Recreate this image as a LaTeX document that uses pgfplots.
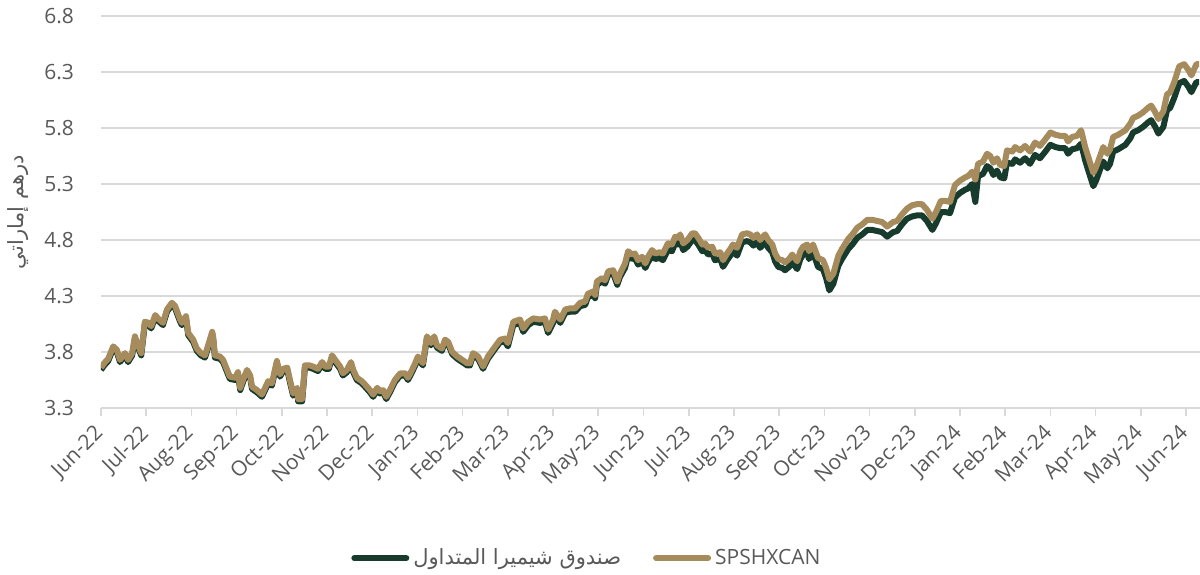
\documentclass[border=0pt]{standalone}
\usepackage{fontspec}
\setmainfont{Open Sans}
\newfontfamily\arabicfont[Script=Arabic]{DejaVu Sans}
\TeXXeTstate=1
\usepackage{pgfplots}
\usepackage{pgfplotstable}
\pgfplotsset{compat=1.18}
\definecolor{fundgreen}{HTML}{173B2C}
\definecolor{indexgold}{HTML}{A68B5C}
\definecolor{gridgray}{HTML}{D9D9D9}
\definecolor{labelgray}{HTML}{595959}

% m = months since Jun-22, gold = SPSHXCAN, fund = ETF
\pgfplotstableread{
m gold fund
0.00 3.66 3.64
0.07 3.70 3.68
0.16 3.74 3.72
0.27 3.85 3.83
0.35 3.82 3.80
0.42 3.73 3.71
0.53 3.79 3.77
0.60 3.73 3.71
0.69 3.79 3.77
0.75 3.94 3.92
0.82 3.86 3.84
0.89 3.79 3.77
0.97 4.07 4.05
1.06 4.06 4.04
1.11 4.03 4.01
1.20 4.13 4.11
1.26 4.10 4.08
1.37 4.06 4.04
1.46 4.18 4.16
1.57 4.24 4.22
1.64 4.21 4.19
1.75 4.09 4.07
1.79 4.06 4.04
1.88 4.12 4.10
1.93 3.97 3.95
2.04 3.91 3.89
2.12 3.83 3.81
2.21 3.79 3.77
2.30 3.77 3.75
2.37 3.86 3.84
2.46 3.98 3.96
2.48 3.94 3.92
2.52 3.77 3.75
2.63 3.76 3.74
2.70 3.73 3.71
2.79 3.64 3.62
2.85 3.58 3.56
2.97 3.57 3.55
3.03 3.62 3.60
3.08 3.48 3.46
3.14 3.55 3.53
3.23 3.64 3.62
3.30 3.59 3.57
3.34 3.49 3.47
3.45 3.46 3.44
3.56 3.42 3.40
3.63 3.48 3.46
3.70 3.54 3.52
3.78 3.52 3.50
3.89 3.72 3.70
3.96 3.60 3.58
4.03 3.65 3.63
4.12 3.66 3.64
4.18 3.55 3.53
4.25 3.43 3.41
4.34 3.48 3.46
4.36 3.38 3.36
4.45 3.38 3.36
4.51 3.68 3.66
4.62 3.68 3.66
4.69 3.67 3.65
4.80 3.65 3.63
4.89 3.71 3.69
4.96 3.67 3.65
5.04 3.67 3.65
5.11 3.77 3.75
5.18 3.73 3.71
5.29 3.67 3.65
5.35 3.61 3.59
5.44 3.64 3.62
5.53 3.71 3.69
5.58 3.64 3.62
5.66 3.57 3.55
5.77 3.54 3.52
5.84 3.51 3.49
5.95 3.46 3.44
6.02 3.42 3.40
6.11 3.48 3.46
6.17 3.45 3.43
6.24 3.46 3.44
6.31 3.40 3.38
6.39 3.46 3.44
6.50 3.55 3.53
6.62 3.61 3.59
6.73 3.61 3.59
6.79 3.57 3.55
6.88 3.64 3.62
6.95 3.70 3.68
7.01 3.76 3.74
7.12 3.70 3.68
7.21 3.94 3.92
7.30 3.88 3.86
7.37 3.94 3.92
7.43 3.86 3.84
7.54 3.83 3.81
7.61 3.91 3.89
7.68 3.89 3.87
7.77 3.80 3.78
7.88 3.76 3.74
7.99 3.73 3.71
8.10 3.70 3.68
8.16 3.70 3.68
8.23 3.79 3.77
8.34 3.76 3.74
8.45 3.67 3.65
8.56 3.76 3.74
8.72 3.85 3.83
8.83 3.91 3.89
8.94 3.92 3.89
9.00 3.88 3.85
9.12 4.07 4.04
9.27 4.09 4.06
9.34 4.01 3.98
9.45 4.07 4.04
9.56 4.10 4.07
9.71 4.09 4.06
9.82 4.10 4.07
9.89 4.00 3.97
10.00 4.09 4.06
10.04 4.16 4.13
10.16 4.09 4.06
10.27 4.18 4.15
10.38 4.19 4.16
10.49 4.19 4.16
10.60 4.24 4.21
10.71 4.25 4.22
10.77 4.32 4.29
10.89 4.34 4.31
10.93 4.31 4.28
10.97 4.43 4.40
11.08 4.46 4.43
11.15 4.44 4.41
11.22 4.52 4.49
11.33 4.53 4.50
11.42 4.43 4.40
11.48 4.50 4.47
11.59 4.59 4.55
11.66 4.70 4.66
11.75 4.67 4.63
11.81 4.68 4.64
11.88 4.62 4.58
11.97 4.65 4.61
12.04 4.59 4.55
12.10 4.65 4.60
12.19 4.71 4.66
12.26 4.68 4.63
12.35 4.69 4.64
12.43 4.68 4.62
12.54 4.77 4.71
12.63 4.76 4.70
12.70 4.83 4.77
12.77 4.82 4.76
12.81 4.85 4.79
12.88 4.77 4.71
12.97 4.80 4.74
13.08 4.86 4.80
13.14 4.86 4.80
13.21 4.82 4.76
13.30 4.76 4.70
13.36 4.77 4.71
13.43 4.73 4.67
13.52 4.74 4.68
13.58 4.68 4.62
13.70 4.69 4.63
13.76 4.62 4.56
13.85 4.68 4.62
13.92 4.72 4.66
13.98 4.76 4.70
14.07 4.73 4.66
14.18 4.85 4.78
14.29 4.86 4.79
14.36 4.85 4.78
14.43 4.82 4.75
14.51 4.85 4.78
14.58 4.80 4.73
14.69 4.85 4.78
14.76 4.80 4.73
14.85 4.76 4.69
14.91 4.68 4.61
14.98 4.63 4.56
15.07 4.62 4.55
15.13 4.60 4.53
15.22 4.63 4.56
15.29 4.67 4.60
15.40 4.61 4.54
15.47 4.70 4.63
15.53 4.74 4.67
15.62 4.76 4.69
15.66 4.70 4.63
15.75 4.76 4.69
15.86 4.64 4.56
15.97 4.62 4.54
16.04 4.55 4.46
16.11 4.45 4.35
16.20 4.50 4.41
16.31 4.66 4.57
16.39 4.72 4.63
16.53 4.81 4.72
16.62 4.85 4.76
16.73 4.91 4.82
16.84 4.94 4.85
16.95 4.98 4.89
17.06 4.98 4.89
17.17 4.97 4.88
17.28 4.96 4.87
17.39 4.92 4.83
17.52 4.96 4.87
17.61 4.97 4.88
17.72 5.03 4.94
17.83 5.08 4.99
17.94 5.11 5.01
18.05 5.12 5.02
18.16 5.12 5.02
18.27 5.07 4.97
18.39 4.99 4.89
18.47 5.05 4.95
18.58 5.15 5.05
18.67 5.15 5.05
18.78 5.14 5.04
18.89 5.29 5.18
19.00 5.33 5.22
19.12 5.36 5.25
19.18 5.37 5.26
19.27 5.41 5.30
19.34 5.34 5.14
19.40 5.48 5.37
19.51 5.50 5.39
19.60 5.57 5.46
19.67 5.55 5.44
19.74 5.49 5.38
19.82 5.53 5.42
19.89 5.47 5.36
19.98 5.46 5.35
20.04 5.60 5.49
20.16 5.59 5.48
20.22 5.63 5.52
20.33 5.60 5.49
20.44 5.64 5.53
20.55 5.59 5.48
20.66 5.67 5.56
20.77 5.64 5.53
20.89 5.70 5.59
21.00 5.76 5.65
21.11 5.74 5.63
21.22 5.73 5.62
21.33 5.73 5.62
21.39 5.68 5.57
21.48 5.72 5.61
21.59 5.73 5.62
21.68 5.78 5.66
21.77 5.63 5.51
21.84 5.54 5.42
21.95 5.40 5.28
22.01 5.45 5.33
22.10 5.55 5.43
22.17 5.63 5.50
22.26 5.57 5.44
22.32 5.61 5.48
22.39 5.72 5.59
22.50 5.74 5.61
22.66 5.78 5.65
22.77 5.84 5.71
22.83 5.89 5.76
22.94 5.91 5.78
23.05 5.94 5.81
23.16 5.98 5.85
23.23 6.00 5.87
23.32 5.94 5.81
23.39 5.88 5.75
23.50 5.95 5.81
23.58 6.10 5.96
23.65 6.12 5.98
23.74 6.21 6.07
23.85 6.35 6.20
23.96 6.37 6.22
24.05 6.32 6.17
24.12 6.27 6.12
24.23 6.37 6.21
24.29 6.37 6.21
}\navdata

\begin{document}
\begin{tikzpicture}
\begin{axis}[
  scale only axis,
  width=549.5pt, height=196pt,
  xmin=0, xmax=24.31,
  ymin=3.3, ymax=6.8,
  axis x line*=bottom, axis y line*=left,
  y axis line style={draw=none},
  x axis line style={gridgray, line width=0.8pt},
  xtick={0,...,24},
  xticklabels={Jun-22,Jul-22,Aug-22,Sep-22,Oct-22,Nov-22,Dec-22,Jan-23,Feb-23,Mar-23,Apr-23,May-23,Jun-23,Jul-23,Aug-23,Sep-23,Oct-23,Nov-23,Dec-23,Jan-24,Feb-24,Mar-24,Apr-24,May-24,Jun-24},
  xtick style={gridgray, line width=0.8pt},
  tick align=outside,
  major tick length=4pt,
  ytick={3.3,3.8,4.3,4.8,5.3,5.8,6.3,6.8},
  ytick style={draw=none},
  yticklabel style={/pgf/number format/fixed, /pgf/number format/fixed zerofill,
    /pgf/number format/precision=1, /pgf/number format/assume math mode=true, xshift=-6pt},
  tick label style={font=\fontsize{10.5}{12}\selectfont, text=labelgray},
  xticklabel style={xshift=-4pt, yshift=-2pt, rotate=45, anchor=north east, inner sep=1pt},
  ymajorgrids,
  grid style={gridgray, line width=0.8pt},
  ylabel={\arabicfont\beginR درهم إماراتي\endR},
  every axis y label/.style={at={(axis description cs:-0.0755,0.5)}, rotate=90, anchor=center, font=\fontsize{10.5}{12}\selectfont, text=labelgray},
  legend columns=2,
  legend style={draw=none, fill=none, at={(axis description cs:0.443,-0.383)}, anchor=center,
    font=\fontsize{10.5}{12}\selectfont, text=labelgray,
    /tikz/every even column/.append style={column sep=14pt}},
  legend image code/.code={\draw[#1, line width=3pt, line cap=round] (0pt,0pt) -- (26pt,0pt);},
]
\addplot[fundgreen, line width=3pt, line join=round] table[x=m, y=fund] {\navdata};
\addlegendentry{\arabicfont\beginR صندوق شيميرا المتداول\endR}
\addplot[indexgold, line width=3pt, line join=round] table[x=m, y=gold] {\navdata};
\addlegendentry{SPSHXCAN}
\coordinate (bbsw) at (axis description cs:-0.0919,-0.426);
\coordinate (bbne) at (axis description cs:1,1.0408);
\end{axis}
\pgfresetboundingbox
\path[use as bounding box] (bbsw) rectangle (bbne);
\end{tikzpicture}
\end{document}
